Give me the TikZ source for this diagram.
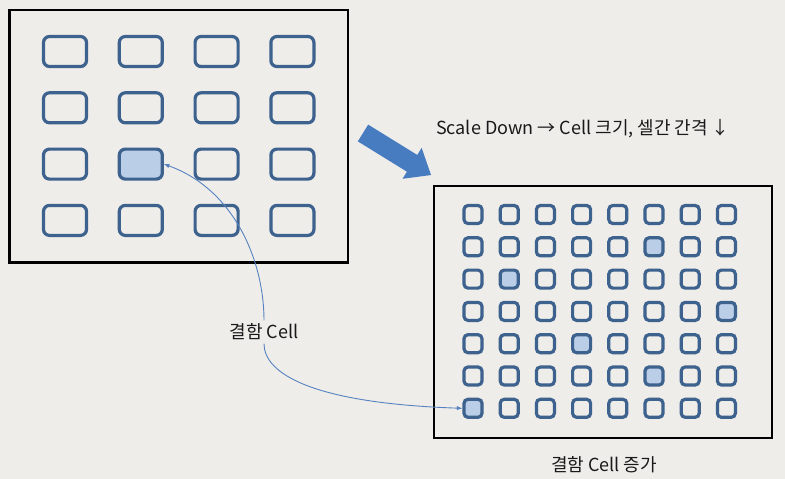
\documentclass[tikz,border=0pt]{standalone}
\usepackage{fontspec}
\setmainfont{Noto Sans CJK KR}
\usetikzlibrary{calc}
\tikzset{>=latex}
\definecolor{bgcol}{RGB}{239,237,234}
\definecolor{celledge}{RGB}{62,98,142}
\definecolor{cellfill}{RGB}{186,206,232}
\definecolor{arrowcol}{RGB}{72,124,192}
\definecolor{linkcol}{RGB}{84,130,192}
\tikzstyle{panel}=[draw=black,line width=2.2]
\tikzstyle{bigcell}=[draw=celledge,line width=3.2,rounded corners=6,minimum width=43,minimum height=30,inner sep=0]
\tikzstyle{smallcell}=[draw=celledge,line width=3.2,rounded corners=4,minimum width=18,minimum height=18,inner sep=0]
\tikzstyle{defect}=[fill=cellfill]
\tikzstyle{link}=[->,draw=linkcol,line width=0.9]
\tikzstyle{caption}=[font=\fontsize{18}{21}\selectfont,text=black!90]
% defective cells
\tikzset{hitL-3-2/.style=defect,
  hitR-2-6/.style=defect, hitR-3-2/.style=defect, hitR-4-8/.style=defect,
  hitR-5-4/.style=defect, hitR-6-6/.style=defect, hitR-7-1/.style=defect}

\begin{document}
\begin{tikzpicture}[x=1pt,y=-1pt]
  \useasboundingbox[fill=bgcol] (0,0) rectangle (785,479);
  % before scale down
  \draw[panel] (9.5,10) rectangle (348,262.5);
  \foreach \r in {1,...,4}{
    \foreach \c in {1,...,4}{
      \node[bigcell,hitL-\r-\c/.try] (L-\r-\c) at ({65+75.8*(\c-1)},{51.5+56.3*(\r-1)}) {};
    }
  }
  % after scale down
  \draw[panel] (434,186) rectangle (772,438);
  \foreach \r in {1,...,7}{
    \foreach \c in {1,...,8}{
      \node[smallcell,hitR-\r-\c/.try] (R-\r-\c) at ({473+36.2*(\c-1)},{214.5+32.3*(\r-1)}) {};
    }
  }
  % big arrow
  \begin{scope}[shift={(363,133)},rotate=-31.7]
    \fill[arrowcol] (0,-9.85) -- (57.7,-9.85) -- (57.7,-18.2) -- (80,0)
      -- (57.7,18.2) -- (57.7,9.85) -- (0,9.85) -- cycle;
  \end{scope}
  \node[caption] (scaletxt) at (583,129) {Scale Down → Cell 크기, 셀간 간격 ↓};
  \node[caption] (defectlbl) at (264,332) {결함 Cell};
  \node[caption] (moretxt) at (604,465) {결함 Cell 증가};
  \draw[link] (defectlbl.north) .. controls +(0,-60) and +(70,25) .. (L-3-2.east);
  \draw[link] (defectlbl.south) .. controls +(0,30) and +(-150,-5) .. (R-7-1.west);
\end{tikzpicture}
\end{document}
